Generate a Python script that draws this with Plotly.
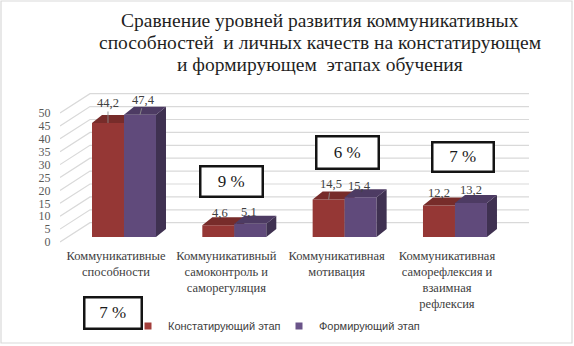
import plotly.graph_objects as go

# ---------------- data ----------------
CATEGORIES = [
    "Коммуникативные<br>способности",
    "Коммуникативный<br>самоконтроль и<br>саморегуляция",
    "Коммуникативная<br>мотивация",
    "Коммуникативная<br>саморефлексия и<br>взаимная<br>рефлексия",
]
SERIES_NAMES = ["Констатирующий этап", "Формирующий этап"]
STAGE_1 = [44.2, 4.6, 14.5, 12.2]
STAGE_2 = [47.4, 5.1, 15.4, 13.2]
Y_TICKS = [0, 5, 10, 15, 20, 25, 30, 35, 40, 45, 50]
BOX_TEXTS = ["7 %", "9 %", "6 %", "7 %"]
TITLE_LINES = [
    "Сравнение уровней развития коммуникативных",
    "способностей  и личных качеств на констатирующем",
    "и формирующем  этапах обучения",
]

# ---------------- geometry / style ----------------
W, H = 574, 346
L, R, T, B = 60, 530, 90, 246          # plot area in px
XR = [-0.58, 3.68]                      # bar axes
YR = [-3.49, 56.98]
PX_X = (R - L) / (XR[1] - XR[0])
PX_Y = (B - T) / (YR[1] - YR[0])
BAR_W = 0.29
DX = 10 / PX_X                           # 3-D depth
DY = 8 / PX_Y
SHIFT_X = 8 / PX_X                       # category labels sit left of bars
FLOOR_DROP = 5 / PX_Y                    # value labels sit below bar scale
XL = [XR[0] + SHIFT_X, XR[1] + SHIFT_X]  # label / wall axes
YL = [YR[0] + FLOOR_DROP, YR[1] + FLOOR_DROP]
WALL_RISE = 19.3 / PX_Y
WALL_X0 = XL[0] + 30 / PX_X
WALL_X1 = XL[1] - 1 / PX_X

SERIF = "'Liberation Serif', 'Times New Roman', Times, serif"
SANS = "'Liberation Sans', Arial, sans-serif"

COLORS = [
    dict(front="#953735", top="#772c2a", side="#632523", legend="#a33e3b"),
    dict(front="#604a7b", top="#4d3b63", side="#3f3151", legend="#6a5489"),
]
# (dx px, lift px, leader line)
LABEL_STYLE = [
    [(0, 20, True), (2, 12, False), (2, 15.5, True), (0, 12.5, False)],
    [(4, 15, True), (-1, 12, False), (-1, 11, False), (0, 13, False)],
]
BOX_POS = [(113, 313), (231, 181), (347, 152), (462.5, 156.5)]
BOX_SIZE = [(57, 31), (62, 30), (62, 32), (61, 29)]


def px_x(p):
    return (p - L) / (R - L)


def px_y(p):
    return (B - p) / (B - T)


fig = go.Figure()

# left wall + back wall grid (label axes)
gx, gy = [], []
for v in Y_TICKS:
    gx += [XL[0], WALL_X0, WALL_X1, None]
    gy += [v, v + WALL_RISE, v + WALL_RISE, None]
fig.add_trace(go.Scatter(x=gx, y=gy, mode="lines", line=dict(color="#d9d9d9", width=1.2),
                         hoverinfo="skip", showlegend=False, xaxis="x", yaxis="y"))

series = [STAGE_1, STAGE_2]
offsets = [-BAR_W, 0.0]
axes = [("x2", "y2"), ("x3", "y3")]
for s, vals in enumerate(series):
    xa, ya = axes[s]
    col = COLORS[s]
    off = offsets[s]
    xs = list(range(len(vals)))
    fig.add_trace(go.Bar(x=xs, y=vals, offset=off, width=BAR_W,
                         marker=dict(color=col["front"], line=dict(width=0)),
                         name=SERIES_NAMES[s], showlegend=False, xaxis=xa, yaxis=ya, hoverinfo="y"))
    tx, ty, sx, sy = [], [], [], []
    for i, v in enumerate(vals):
        x0 = i + off
        x1 = x0 + BAR_W
        tx += [x0, x1, x1 + DX, x0 + DX, x0, None]
        ty += [v, v, v + DY, v + DY, v, None]
        sx += [x1, x1 + DX, x1 + DX, x1, x1, None]
        sy += [0, DY, v + DY, v, 0, None]
    fig.add_trace(go.Scatter(x=sx, y=sy, mode="lines", fill="toself", fillcolor=col["side"],
                             line=dict(width=0), hoverinfo="skip", showlegend=False, xaxis=xa, yaxis=ya))
    fig.add_trace(go.Scatter(x=tx, y=ty, mode="lines", fill="toself", fillcolor=col["top"],
                             line=dict(width=0), hoverinfo="skip", showlegend=False, xaxis=xa, yaxis=ya))
    fig.add_trace(go.Scatter(x=[None], y=[None], mode="markers", name=SERIES_NAMES[s],
                             marker=dict(symbol="square", size=7, color=col["legend"]),
                             xaxis=xa, yaxis=ya))

# data labels
annotations = []
for s, vals in enumerate(series):
    for i, v in enumerate(vals):
        dxp, lift, leader = LABEL_STYLE[s][i]
        xc = i + offsets[s] + BAR_W / 2
        txt = f"{v:.1f}".replace(".", ",")
        a = dict(x=xc, y=v, xref="x2", yref="y2", text=txt,
                 font=dict(family=SERIF, size=12.5, color="#404040"))
        if leader:
            a.update(showarrow=True, ax=dxp, ay=-lift, arrowhead=0, arrowwidth=0.9,
                     arrowcolor="#8c8c8c", standoff=0)
        else:
            a.update(showarrow=False, xshift=dxp, yshift=lift)
        annotations.append(a)

# boxed percentages
for txt, (cx, cy), (bw, bh) in zip(BOX_TEXTS, BOX_POS, BOX_SIZE):
    annotations.append(dict(x=px_x(cx), y=px_y(cy), xref="paper", yref="paper", text=txt,
                            showarrow=False, xanchor="center", yanchor="middle",
                            width=bw - 4.5, height=bh - 4.5, borderpad=1, borderwidth=2.5,
                            bordercolor="#141414", bgcolor="white",
                            font=dict(family=SERIF, size=17, color="#1a1a1a")))

# title lines
for line, cy in zip(TITLE_LINES, [20, 42.5, 65]):
    annotations.append(dict(x=px_x(320), y=px_y(cy), xref="paper", yref="paper", text=line,
                            showarrow=False, xanchor="center", yanchor="middle",
                            font=dict(family=SERIF, size=19.5, color="#1f1f1f")))

hidden = dict(showgrid=False, zeroline=False, showline=False, ticks="", showticklabels=False)
fig.update_layout(
    width=W, height=H,
    margin=dict(l=L, r=W - R, t=T, b=H - B, pad=0, autoexpand=False),
    paper_bgcolor="white", plot_bgcolor="rgba(0,0,0,0)",
    barmode="overlay",
    xaxis=dict(range=XL, showgrid=False, zeroline=False, showline=False, ticks="",
               tickmode="array", tickvals=[0, 1, 2, 3], ticktext=CATEGORIES,
               tickfont=dict(family=SERIF, size=12.5, color="#404040")),
    yaxis=dict(range=YL, showgrid=False, zeroline=False, showline=False,
               ticks="outside", ticklen=6, tickcolor="rgba(0,0,0,0)",
               tickmode="array", tickvals=Y_TICKS, ticktext=[str(v) for v in Y_TICKS],
               tickfont=dict(family=SERIF, size=12, color="#595959")),
    xaxis2=dict(range=XR, overlaying="x", **hidden),
    yaxis2=dict(range=YR, overlaying="y", **hidden),
    xaxis3=dict(range=XR, overlaying="x", **hidden),
    yaxis3=dict(range=YR, overlaying="y", **hidden),
    legend=dict(orientation="h", xref="container", yref="container",
                x=128 / W, y=1 - 326 / H, xanchor="left", yanchor="middle",
                font=dict(family=SANS, size=11, color="#404040"), bgcolor="rgba(0,0,0,0)",
                entrywidth=106, entrywidthmode="pixels", itemwidth=30),
    annotations=annotations,
    shapes=[dict(type="rect", xref="paper", yref="paper", x0=px_x(1), x1=px_x(572),
                 y0=px_y(343), y1=px_y(1), line=dict(color="#d9d9d9", width=1.2), layer="below")],
    showlegend=True,
)

fig.write_html("out.html", config={"displayModeBar": False},
               post_script="document.body.style.margin='0px';")
